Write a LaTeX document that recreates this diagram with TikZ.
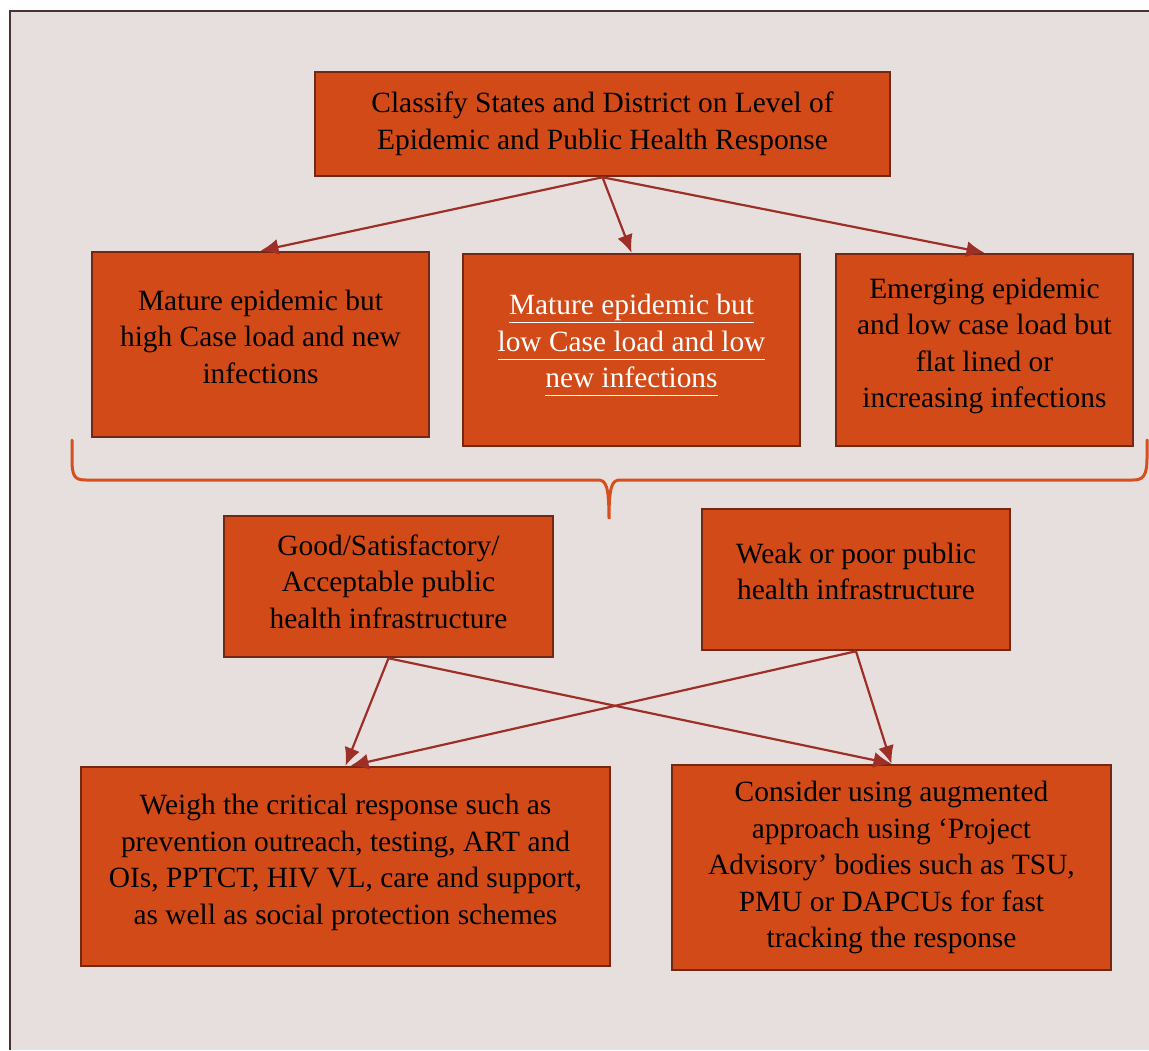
\documentclass[tikz,border=0pt]{standalone}
\usepackage{fontspec}
\setmainfont{Liberation Serif}
\usetikzlibrary{arrows.meta}

\definecolor{pagebg}{HTML}{E7DFDE}
\definecolor{framecol}{HTML}{4A3236}
\definecolor{boxfill}{HTML}{D24A17}
\definecolor{boxedge}{HTML}{722812}
\definecolor{arrowcol}{HTML}{9E2F26}
\definecolor{bracecol}{HTML}{D5501E}

% underline with a common depth on every line
\newcommand\evenline[1]{\underline{#1\vphantom{gp}}}

\tikzset{
  stagebox/.style={draw=boxedge, fill=boxfill, line width=2.5pt,
    rectangle, align=center, inner sep=0pt, text=black,
    font=\fontsize{29.4}{36.5}\selectfont},
  flow/.style={draw=arrowcol, line width=2.2pt,
    -{Latex[length=18pt,width=16pt]}},
  bracket/.style={draw=bracecol, line width=3pt, line cap=round}
}

\begin{document}
\begin{tikzpicture}[x=1pt,y=-1pt]
  \useasboundingbox (0,0) rectangle (1149,1050);
  % page panel with its top and left rule
  \fill[white] (0,0) rectangle (1149,1050);
  \fill[pagebg] (10,11) rectangle (1149,1050);
  \draw[framecol, line width=2.5pt] (10,1050) -- (10,11) -- (1149,11);

  % classification step
  \node[stagebox, minimum width=575pt, minimum height=104pt] (classify)
    at (602.5,124) {Classify States and District on Level of\\Epidemic and Public Health Response};

  % epidemic levels
  \node[stagebox, minimum width=337pt, minimum height=185pt, text depth=16pt] (highload)
    at (260.5,344.5) {Mature epidemic but\\high Case load and new\\infections};
  \node[stagebox, minimum width=337pt, minimum height=192pt, text=white, text depth=18pt] (lowload)
    at (631.5,350) {\evenline{Mature epidemic but}\\\evenline{low Case load and low}\\\evenline{new infections}};
  \node[stagebox, minimum width=297pt, minimum height=192pt, text depth=14pt] (emerging)
    at (984.5,350) {Emerging epidemic\\and low case load but\\flat lined or\\increasing infections};

  % grouping brace under the three levels
  \draw[bracket] (72,440) -- (72,458) .. controls (72,476) and (74,480) .. (86,480)
    -- (598,480) .. controls (606,480) and (609,486) .. (609,519)
    .. controls (609,486) and (612,480) .. (620,480)
    -- (1133,480) .. controls (1143,480) and (1147,476) .. (1147,458) -- (1147,440);

  % infrastructure
  \node[stagebox, minimum width=329pt, minimum height=141pt, text depth=10pt] (good)
    at (388.5,586.5) {Good/Satisfactory/\\Acceptable public\\health infrastructure};
  \node[stagebox, minimum width=308pt, minimum height=141pt, text depth=16pt] (weak)
    at (856,579.5) {Weak or poor public\\health infrastructure};

  % responses
  \node[stagebox, minimum width=529pt, minimum height=199pt, text depth=14pt] (weigh)
    at (345.5,866.5) {Weigh the critical response such as\\prevention outreach, testing, ART and\\OIs, PPTCT, HIV VL, care and support,\\as well as social protection schemes};
  \node[stagebox, minimum width=439pt, minimum height=205pt] (augment)
    at (891.5,867.5) {Consider using augmented\\approach using ‘Project\\Advisory’ bodies such as TSU,\\PMU or DAPCUs for fast\\tracking the response};

  % connectors
  \draw[flow] (classify.south) -- (highload.north);
  \draw[flow] (classify.south) -- (lowload.north);
  \draw[flow] (classify.south) -- (emerging.north);
  \draw[flow] (good.south) -- (weigh.north);
  \draw[flow] (good.south) -- (augment.north);
  \draw[flow] (weak.south) -- (augment.north);
  \draw[flow] (weak.south) -- ([xshift=5pt]weigh.north);
\end{tikzpicture}
\end{document}
